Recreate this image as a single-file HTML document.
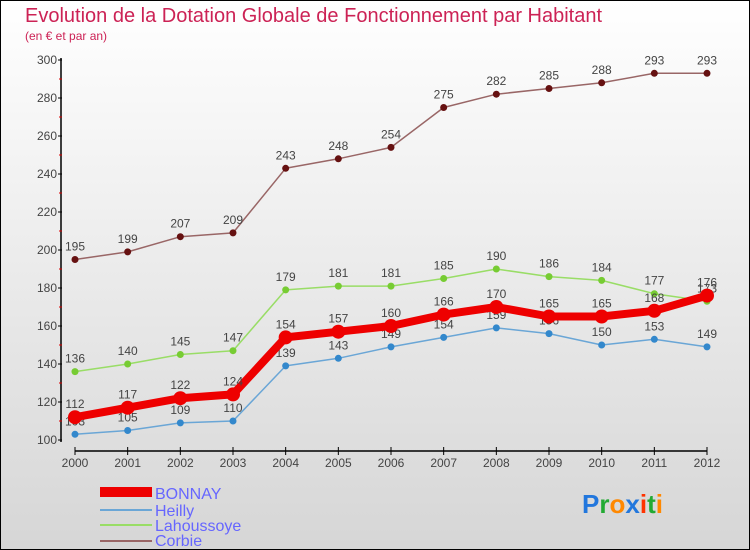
<!DOCTYPE html>
<html><head><meta charset="utf-8"><style>
body{margin:0}
#c{position:relative;width:750px;height:550px;box-sizing:border-box;border:1px solid #000;background:linear-gradient(#fff,#d6d6d6);font-family:"Liberation Sans",sans-serif;overflow:hidden}
</style></head><body>
<div id="c">
<svg id="s" width="750" height="550" style="position:absolute;left:-1px;top:-1px">
<text x="25" y="22" font-size="20" fill="#cc2255">Evolution de la Dotation Globale de Fonctionnement par Habitant</text>
<text x="25" y="40" font-size="12" fill="#cc2255">(en € et par an)</text>
<g id="ax"></g><g id="ser"></g>
<g>
<rect x="100" y="487" width="52" height="10" fill="#ee0000"/>
<text x="155" y="499" font-size="16" fill="#6666ff">BONNAY</text>
<line x1="100" y1="510" x2="152" y2="510" stroke="#6aa6d6" stroke-width="2"/>
<text x="155" y="516" font-size="16" fill="#6666ff">Heilly</text>
<line x1="100" y1="525" x2="152" y2="525" stroke="#99dd66" stroke-width="2"/>
<text x="155" y="531" font-size="16" fill="#6666ff">Lahoussoye</text>
<line x1="100" y1="541" x2="152" y2="541" stroke="#996666" stroke-width="2"/>
<text x="155" y="546" font-size="16" fill="#6666ff">Corbie</text>
</g>
<text x="582" y="513" font-size="26" font-weight="bold"><tspan fill="#2277dd">P</tspan><tspan fill="#22aa33">r</tspan><tspan fill="#ff8800">o</tspan><tspan fill="#2277dd">x</tspan><tspan fill="#ff3300">i</tspan><tspan fill="#22aa33">t</tspan><tspan fill="#ff8800">i</tspan></text>
</svg></div>
<script>
const years=[2000,2001,2002,2003,2004,2005,2006,2007,2008,2009,2010,2011,2012];
const yTicks=[100,120,140,160,180,200,220,240,260,280,300];
const bonnay=[112,117,122,124,154,157,160,166,170,165,165,168,176];
const heilly=[103,105,109,110,139,143,149,154,159,156,150,153,149];
const lahoussoye=[136,140,145,147,179,181,181,185,190,186,184,177,173];
const corbie=[195,199,207,209,243,248,254,275,282,285,288,293,293];
const NS="http://www.w3.org/2000/svg";
const X=i=>75+i*(707-75)/(years.length-1);
const Y=v=>440-(v-100)*1.9;
function mk(t,a,p){const e=document.createElementNS(NS,t);for(const k in a)e.setAttribute(k,a[k]);p.appendChild(e);return e;}
const ax=document.getElementById('ax'),ser=document.getElementById('ser');
let l=mk('line',{x1:61,y1:58,x2:61,y2:442,stroke:'#000','stroke-width':1.5},ax);


l=mk('line',{x1:75,y1:451,x2:707,y2:451,stroke:'#000','stroke-width':1.5},ax);


yTicks.forEach(v=>{
 mk('line',{x1:58,y1:Y(v),x2:62,y2:Y(v),stroke:'#000'},ax);
 if(v<300)mk('line',{x1:59,y1:Y(v+10),x2:62,y2:Y(v+10),stroke:'#d00'},ax);
 const t=mk('text',{x:57,y:Y(v)+4,'font-size':12,fill:'#444','text-anchor':'end'},ax);t.textContent=v;
 
 
});
years.forEach((y,i)=>{
 mk('line',{x1:X(i),y1:447,x2:X(i),y2:455,stroke:'#000'},ax);
 const t=mk('text',{x:X(i),y:467,'font-size':12,fill:'#444','text-anchor':'middle'},ax);t.textContent=y;
 
 
});
function series(name,d,col,dot,w,r){
 const g=mk('g',{},ser);
 
 
 mk('polyline',{points:d.map((v,i)=>X(i)+','+Y(v)).join(' '),fill:'none',stroke:col,'stroke-width':w,'stroke-linejoin':'round'},g);
 d.forEach((v,i)=>{
  const c=mk('circle',{cx:X(i),cy:Y(v),r:r,fill:dot},g);
  
  
  const t=mk('text',{x:X(i),y:Y(v)-9,'font-size':12,fill:'#444','text-anchor':'middle'},g);t.textContent=v;
 });
}
series('heilly',heilly,'#6aa6d6','#3388cc',1.5,3.5);
series('lahoussoye',lahoussoye,'#99dd66','#77cc33',1.5,3.5);
series('corbie',corbie,'#996666','#661111',1.5,3.5);
series('bonnay',bonnay,'#ee0000','#ee0000',8,7);
</script>
</body></html>
